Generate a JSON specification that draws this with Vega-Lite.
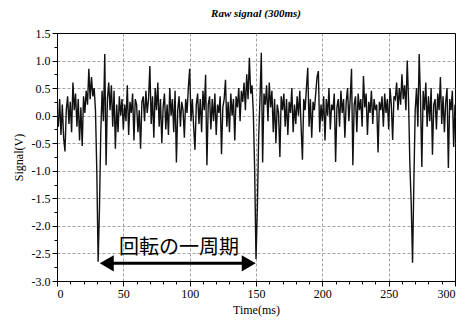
{
  "$schema": "https://vega.github.io/schema/vega-lite/v6.json",
  "width": 398,
  "height": 248,
  "autosize": "none",
  "padding": {"left": 57, "top": 33, "right": 10, "bottom": 42},
  "background": "white",
  "title": {"text": "Raw signal (300ms)", "font": "Liberation Serif", "fontStyle": "italic", "fontWeight": "bold", "fontSize": 11, "color": "black", "anchor": "middle", "offset": -1, "baseline": "alphabetic"},
  "config": {
    "view": {"stroke": "black", "strokeWidth": 1},
    "axis": {"labelFont": "Liberation Serif", "titleFont": "Liberation Serif", "labelFontSize": 12, "titleFontSize": 12, "titleFontWeight": "normal", "labelColor": "black", "titleColor": "black", "domainColor": "black", "tickColor": "black", "gridColor": "#8a8a8a", "gridDash": [3, 2], "gridWidth": 0.8, "labelOverlap": false, "tickCount": 100}
  },
  "layer": [
    {
      "data": {"values": [
{"t":0,"v":0.05},{"t":1,"v":-0.2},{"t":2,"v":0.3},{"t":3,"v":-0.35},{"t":4,"v":0.2},{"t":5,"v":-0.4},{"t":6,"v":-0.65},{"t":7,"v":0.1},{"t":8,"v":0.35},{"t":9,"v":-0.15},
{"t":10,"v":0.25},{"t":11,"v":-0.3},{"t":12,"v":0.6},{"t":13,"v":0.1},{"t":14,"v":0.4},{"t":15,"v":-0.2},{"t":16,"v":0.3},{"t":17,"v":-0.45},{"t":18,"v":0.15},{"t":19,"v":-0.55},
{"t":20,"v":0.35},{"t":21,"v":0.05},{"t":22,"v":0.45},{"t":23,"v":0.2},{"t":24,"v":0.85},{"t":25,"v":0.3},{"t":26,"v":0.7},{"t":27,"v":0.35},{"t":28,"v":0.5},{"t":29,"v":0.1},
{"t":30,"v":-1.0},{"t":31,"v":-2.65},{"t":32,"v":-1.7},{"t":33,"v":-0.3},{"t":34,"v":0.45},{"t":35,"v":-0.1},{"t":36,"v":1.12},{"t":37,"v":-0.9},{"t":38,"v":0.3},{"t":39,"v":0.6},
{"t":40,"v":0.1},{"t":41,"v":0.55},{"t":42,"v":-0.2},{"t":43,"v":0.45},{"t":44,"v":-0.6},{"t":45,"v":0.2},{"t":46,"v":-0.3},{"t":47,"v":0.35},{"t":48,"v":0.0},{"t":49,"v":0.3},
{"t":50,"v":-0.25},{"t":51,"v":0.2},{"t":52,"v":-0.1},{"t":53,"v":0.55},{"t":54,"v":-0.35},{"t":55,"v":0.25},{"t":56,"v":0.05},{"t":57,"v":0.4},{"t":58,"v":-0.45},{"t":59,"v":0.3},
{"t":60,"v":0.2},{"t":61,"v":-0.3},{"t":62,"v":0.1},{"t":63,"v":-0.6},{"t":64,"v":0.25},{"t":65,"v":0.35},{"t":66,"v":-0.1},{"t":67,"v":0.45},{"t":68,"v":0.05},{"t":69,"v":0.3},
{"t":70,"v":0.9},{"t":71,"v":-0.15},{"t":72,"v":0.35},{"t":73,"v":-0.4},{"t":74,"v":0.5},{"t":75,"v":0.1},{"t":76,"v":0.6},{"t":77,"v":-0.2},{"t":78,"v":0.3},{"t":79,"v":-0.5},
{"t":80,"v":0.15},{"t":81,"v":0.4},{"t":82,"v":-0.25},{"t":83,"v":0.2},{"t":84,"v":-0.35},{"t":85,"v":0.5},{"t":86,"v":0.0},{"t":87,"v":0.3},{"t":88,"v":-0.3},{"t":89,"v":0.45},
{"t":90,"v":-0.85},{"t":91,"v":0.1},{"t":92,"v":0.35},{"t":93,"v":-0.2},{"t":94,"v":0.25},{"t":95,"v":0.1},{"t":96,"v":-0.4},{"t":97,"v":0.3},{"t":98,"v":0.05},{"t":99,"v":0.5},
{"t":100,"v":0.85},{"t":101,"v":-0.1},{"t":102,"v":0.3},{"t":103,"v":-0.2},{"t":104,"v":-0.62},{"t":105,"v":0.2},{"t":106,"v":0.4},{"t":107,"v":-0.15},{"t":108,"v":0.3},{"t":109,"v":-0.3},
{"t":110,"v":0.45},{"t":111,"v":0.1},{"t":112,"v":0.74},{"t":113,"v":-0.9},{"t":114,"v":0.2},{"t":115,"v":0.35},{"t":116,"v":-0.25},{"t":117,"v":0.3},{"t":118,"v":-0.1},{"t":119,"v":0.4},
{"t":120,"v":-0.35},{"t":121,"v":0.2},{"t":122,"v":0.05},{"t":123,"v":0.35},{"t":124,"v":-0.7},{"t":125,"v":0.15},{"t":126,"v":0.3},{"t":127,"v":0.65},{"t":128,"v":-0.2},{"t":129,"v":0.25},
{"t":130,"v":-0.3},{"t":131,"v":0.4},{"t":132,"v":0.0},{"t":133,"v":0.3},{"t":134,"v":-0.45},{"t":135,"v":0.35},{"t":136,"v":0.15},{"t":137,"v":0.5},{"t":138,"v":-0.1},{"t":139,"v":0.45},
{"t":140,"v":0.25},{"t":141,"v":0.6},{"t":142,"v":0.1},{"t":143,"v":0.75},{"t":144,"v":0.3},{"t":145,"v":1.05},{"t":146,"v":0.4},{"t":147,"v":0.55},{"t":148,"v":0.05},{"t":149,"v":-1.0},
{"t":150,"v":-2.6},{"t":151,"v":-1.7},{"t":152,"v":-0.4},{"t":153,"v":0.3},{"t":154,"v":1.14},{"t":155,"v":-0.85},{"t":156,"v":0.4},{"t":157,"v":0.2},{"t":158,"v":0.55},{"t":159,"v":-0.1},
{"t":160,"v":0.6},{"t":161,"v":0.15},{"t":162,"v":0.45},{"t":163,"v":-0.3},{"t":164,"v":0.3},{"t":165,"v":-0.5},{"t":166,"v":0.2},{"t":167,"v":0.05},{"t":168,"v":-0.75},{"t":169,"v":0.35},
{"t":170,"v":0.1},{"t":171,"v":0.4},{"t":172,"v":-0.2},{"t":173,"v":0.3},{"t":174,"v":-0.35},{"t":175,"v":0.25},{"t":176,"v":0.05},{"t":177,"v":0.5},{"t":178,"v":-0.3},{"t":179,"v":0.2},
{"t":180,"v":-0.15},{"t":181,"v":0.35},{"t":182,"v":0.0},{"t":183,"v":0.45},{"t":184,"v":-0.2},{"t":185,"v":-0.8},{"t":186,"v":0.3},{"t":187,"v":0.1},{"t":188,"v":0.5},{"t":189,"v":0.87},
{"t":190,"v":-0.2},{"t":191,"v":0.3},{"t":192,"v":-0.4},{"t":193,"v":0.25},{"t":194,"v":0.1},{"t":195,"v":0.4},{"t":196,"v":0.7},{"t":197,"v":0.81},{"t":198,"v":-0.3},{"t":199,"v":0.2},
{"t":200,"v":-0.1},{"t":201,"v":0.35},{"t":202,"v":-0.45},{"t":203,"v":0.3},{"t":204,"v":0.0},{"t":205,"v":0.5},{"t":206,"v":-0.25},{"t":207,"v":0.2},{"t":208,"v":0.1},{"t":209,"v":0.4},
{"t":210,"v":-0.84},{"t":211,"v":0.15},{"t":212,"v":0.3},{"t":213,"v":-0.2},{"t":214,"v":0.45},{"t":215,"v":0.05},{"t":216,"v":0.3},{"t":217,"v":-0.4},{"t":218,"v":0.25},{"t":219,"v":0.5},
{"t":220,"v":-0.1},{"t":221,"v":0.3},{"t":222,"v":0.85},{"t":223,"v":-0.9},{"t":224,"v":0.2},{"t":225,"v":0.35},{"t":226,"v":-0.3},{"t":227,"v":0.4},{"t":228,"v":0.1},{"t":229,"v":0.3},
{"t":230,"v":-0.2},{"t":231,"v":0.72},{"t":232,"v":0.15},{"t":233,"v":0.4},{"t":234,"v":-0.35},{"t":235,"v":0.25},{"t":236,"v":0.05},{"t":237,"v":0.45},{"t":238,"v":-0.15},{"t":239,"v":0.3},
{"t":240,"v":0.1},{"t":241,"v":0.2},{"t":242,"v":-0.67},{"t":243,"v":0.25},{"t":244,"v":0.1},{"t":245,"v":0.35},{"t":246,"v":-0.2},{"t":247,"v":0.4},{"t":248,"v":0.05},{"t":249,"v":0.3},
{"t":250,"v":-0.25},{"t":251,"v":0.5},{"t":252,"v":0.2},{"t":253,"v":-0.44},{"t":254,"v":0.35},{"t":255,"v":0.3},{"t":256,"v":0.6},{"t":257,"v":0.1},{"t":258,"v":0.5},{"t":259,"v":0.2},
{"t":260,"v":0.75},{"t":261,"v":0.3},{"t":262,"v":0.55},{"t":263,"v":0.1},{"t":264,"v":1.0},{"t":265,"v":0.25},{"t":266,"v":-0.9},{"t":267,"v":-1.6},{"t":268,"v":-2.67},{"t":269,"v":-1.2},
{"t":270,"v":0.1},{"t":271,"v":0.5},{"t":272,"v":-0.2},{"t":273,"v":1.12},{"t":274,"v":0.3},{"t":275,"v":-0.93},{"t":276,"v":0.45},{"t":277,"v":0.1},{"t":278,"v":0.6},{"t":279,"v":-0.2},
{"t":280,"v":0.35},{"t":281,"v":-0.1},{"t":282,"v":0.5},{"t":283,"v":-0.71},{"t":284,"v":0.2},{"t":285,"v":0.3},{"t":286,"v":-0.25},{"t":287,"v":0.4},{"t":288,"v":0.1},{"t":289,"v":0.7},
{"t":290,"v":-0.15},{"t":291,"v":0.35},{"t":292,"v":-0.3},{"t":293,"v":0.25},{"t":294,"v":0.5},{"t":295,"v":-0.95},{"t":296,"v":0.3},{"t":297,"v":0.1},{"t":298,"v":0.45},{"t":299,"v":-0.57},
{"t":300,"v":0.2}
      ]},
      "mark": {"type": "line", "color": "#111111", "strokeWidth": 1.4, "clip": true},
      "encoding": {
        "x": {"field": "t", "type": "quantitative", "title": "Time(ms)",
          "scale": {"domain": [0, 300], "nice": false},
          "axis": {"values": [0,10,20,30,40,50,60,70,80,90,100,110,120,130,140,150,160,170,180,190,200,210,220,230,240,250,260,270,280,290,300],
            "tickCount": 100,
            "labelExpr": "datum.value % 50 === 0 ? datum.label : ''",
            "tickSize": {"condition": {"test": "datum.value % 50 === 0", "value": 5}, "value": 3},
            "gridOpacity": {"condition": {"test": "datum.value % 50 === 0 && datum.value > 0 && datum.value < 300", "value": 1}, "value": 0},
            "labelPadding": 2, "titlePadding": 5}},
        "y": {"field": "v", "type": "quantitative", "title": "Signal(V)",
          "scale": {"domain": [-3, 1.5], "nice": false},
          "axis": {"values": [-3,-2.75,-2.5,-2.25,-2,-1.75,-1.5,-1.25,-1,-0.75,-0.5,-0.25,0,0.25,0.5,0.75,1,1.25,1.5],
            "tickCount": 100,
            "labelExpr": "abs(datum.value*2 - round(datum.value*2)) < 0.001 ? replace(format(datum.value, '.1f'), '\u2212', '-') : ''",
            "tickSize": {"condition": {"test": "abs(datum.value*2 - round(datum.value*2)) < 0.001", "value": 5}, "value": 3},
            "gridOpacity": {"condition": {"test": "abs(datum.value*2 - round(datum.value*2)) < 0.001 && datum.value > -3 && datum.value < 1.5", "value": 1}, "value": 0},
            "labelPadding": 2, "titlePadding": 6}}
      }
    },
    {
      "data": {"values": [{"x1": 36, "x2": 146, "y": -2.68}]},
      "mark": {"type": "rule", "color": "black", "strokeWidth": 3},
      "encoding": {
        "x": {"field": "x1", "type": "quantitative"},
        "x2": {"field": "x2"},
        "y": {"field": "y", "type": "quantitative"}
      }
    },
    {
      "data": {"values": [{"x": 37.5, "y": -2.68, "dir": "left"}, {"x": 144.5, "y": -2.68, "dir": "right"}]},
      "mark": {"type": "point", "filled": true, "color": "black", "opacity": 1, "size": 260},
      "encoding": {
        "x": {"field": "x", "type": "quantitative"},
        "y": {"field": "y", "type": "quantitative"},
        "shape": {"field": "dir", "type": "nominal", "scale": {"domain": ["left", "right"], "range": ["triangle-left", "triangle-right"]}, "legend": null}
      }
    },
    {
      "data": {"values": [{"x": 92, "y": -2.4, "label": "回転の一周期"}]},
      "mark": {"type": "text", "font": "Noto Sans CJK JP", "fontSize": 20, "color": "black", "baseline": "middle", "align": "center"},
      "encoding": {
        "x": {"field": "x", "type": "quantitative"},
        "y": {"field": "y", "type": "quantitative"},
        "text": {"field": "label"}
      }
    }
  ]
}
